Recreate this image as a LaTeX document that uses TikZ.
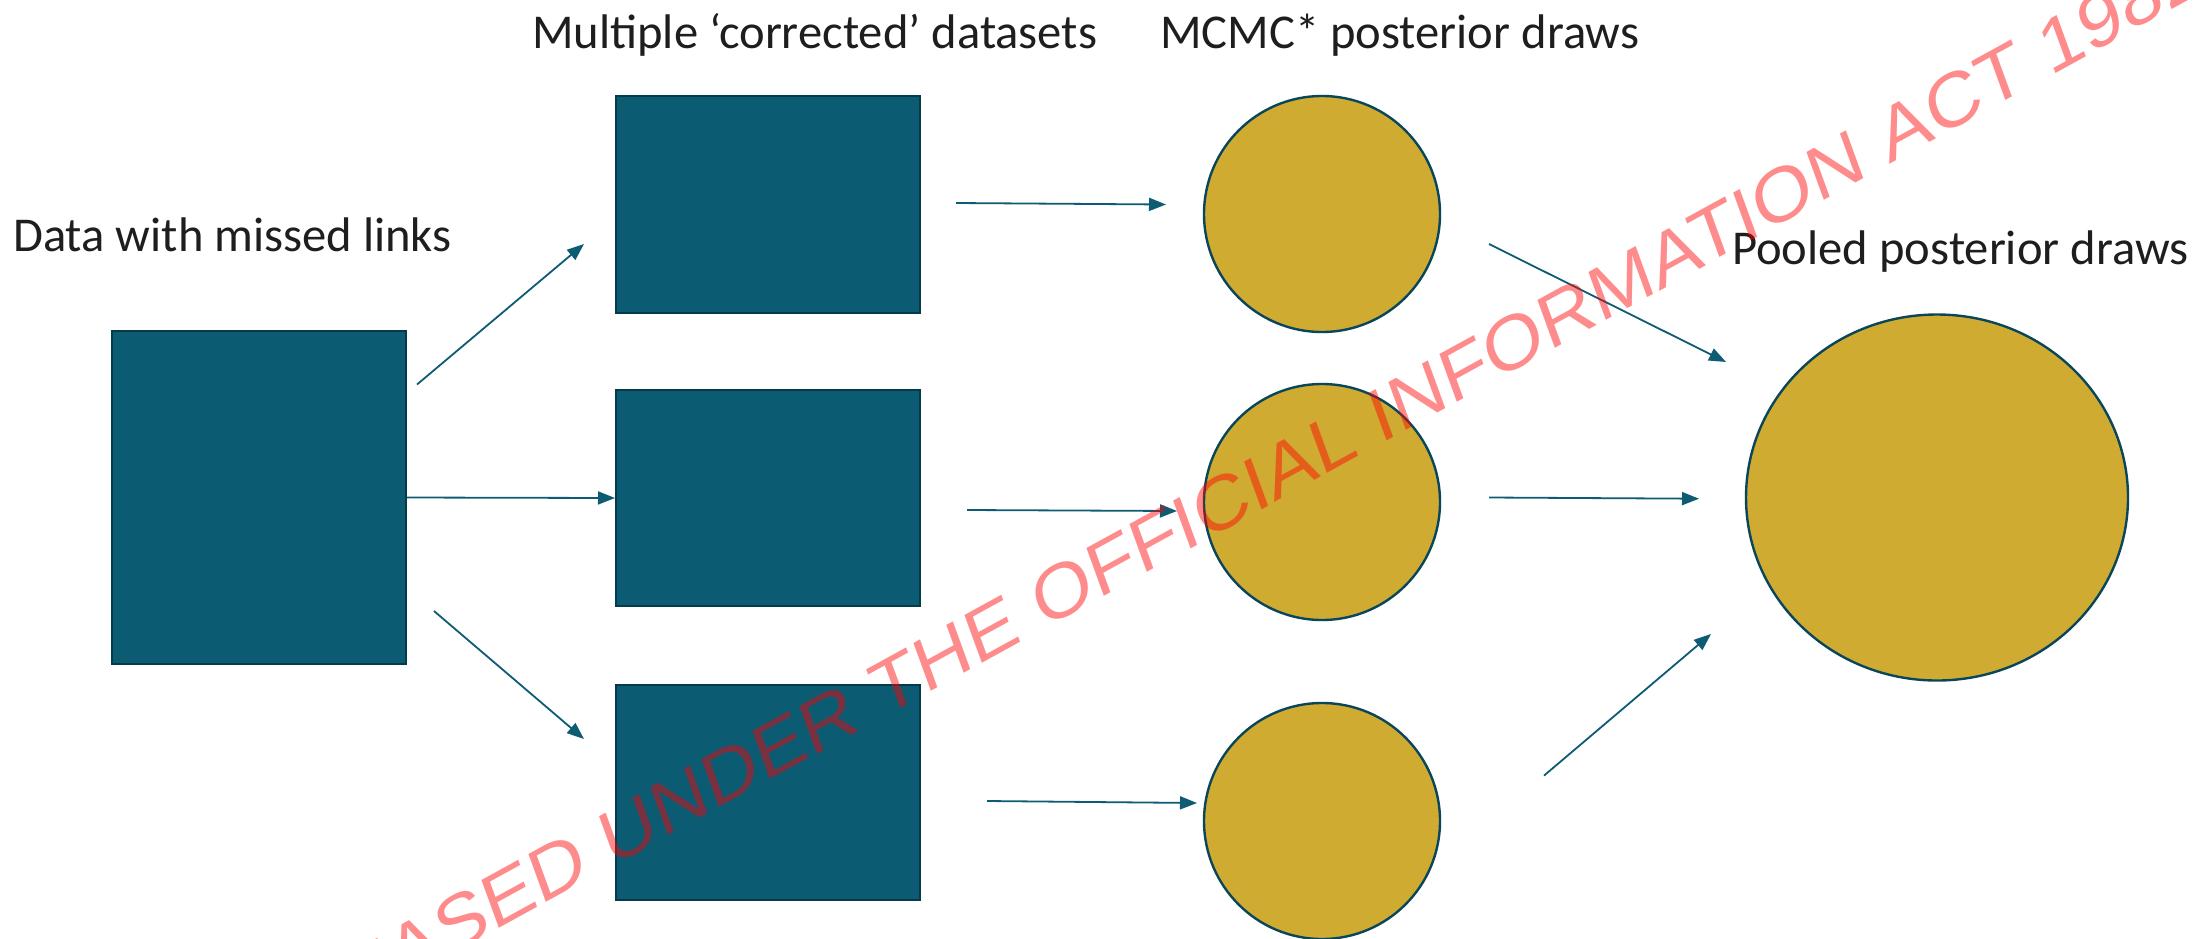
\documentclass[tikz,border=0pt]{standalone}
\usepackage{fontspec}
\setmainfont{Carlito}
\newfontfamily\wmfont{Liberation Sans}
\usetikzlibrary{arrows.meta,shapes.geometric}
\definecolor{boxfill}{RGB}{11,91,115}
\definecolor{boxline}{RGB}{5,58,75}
\definecolor{gold}{RGB}{208,171,50}
\definecolor{goldline}{RGB}{10,70,90}
\definecolor{arrowc}{RGB}{14,92,116}
\definecolor{labelc}{RGB}{30,30,30}
\tikzset{
  databox/.style={draw=boxline, fill=boxfill, line width=2pt, rectangle, inner sep=0pt},
  drawcircle/.style={draw=goldline, fill=gold, line width=2.4pt, circle, inner sep=0pt, minimum size=236pt},
  pooled/.style={draw=goldline, fill=gold, line width=2.4pt, ellipse, inner sep=0pt, minimum width=382pt, minimum height=366pt},
  flow/.style={draw=arrowc, line width=1.8pt, -{Triangle[length=17pt,width=13pt]}},
  lbl/.style={anchor=base west, inner sep=0pt, text=labelc, font=\fontsize{48.6}{58}\selectfont},
  watermark/.style={anchor=base west, inner sep=0pt, text=red, text opacity=0.45, font=\wmfont\fontsize{100}{120}\selectfont}
}
\begin{document}
\begin{tikzpicture}[x=1pt,y=-1pt]
\useasboundingbox (0,0) rectangle (2205,938);
\fill[white] (0,0) rectangle (2205,938);

% labels
\node[lbl] (tdata) at (13,251) {Data with missed links};
\node[lbl] (tcorr) at (532,48) {Multiple ‘corrected’ datasets};
\node[lbl] (tmcmc) at (1160,48) {MCMC* posterior draws};
\node[lbl] (tpool) at (1732,264) {Pooled posterior draws};

% boxes
\node[databox, minimum width=294pt, minimum height=333pt] (L) at (259,497.5) {};
\node[databox, minimum width=304pt, minimum height=217pt] (D1) at (768,204.5) {};
\node[databox, minimum width=304pt, minimum height=216pt] (D2) at (768,498) {};
\node[databox, minimum width=304pt, minimum height=215pt] (D3) at (768,792.5) {};

% circles
\node[drawcircle] (C1) at (1322,214) {};
\node[drawcircle] (C2) at (1322,502) {};
\node[drawcircle] (C3) at (1322,821) {};
\node[pooled] (P) at (1937,497.5) {};

% arrow end points
\coordinate (a1s) at (417,384.5);
\coordinate (a1e) at (584,244);
\coordinate (a3s) at (434,611);
\coordinate (a3e) at (584,739);
\coordinate (a4s) at (956,203);
\coordinate (a4e) at (1166,204.5);
\coordinate (a5s) at (967,510);
\coordinate (a5e) at (1177,511);
\coordinate (a6s) at (987,801);
\coordinate (a6e) at (1197,803);
\coordinate (a7s) at (1489,244);
\coordinate (a7e) at (1726,362);
\coordinate (a8s) at (1489,497.5);
\coordinate (a8e) at (1699,498.7);
\coordinate (a9s) at (1544,775.6);
\coordinate (a9e) at (1711,634);

\draw[flow] (a1s) -- (a1e);
\draw[flow] (L.east) -- (D2.west);
\draw[flow] (a3s) -- (a3e);
\draw[flow] (a4s) -- (a4e);
\draw[flow] (a5s) -- (a5e);
\draw[flow] (a6s) -- (a6e);
\draw[flow] (a7s) -- (a7e);
\draw[flow] (a8s) -- (a8e);
\draw[flow] (a9s) -- (a9e);

% watermark
\begin{scope}
\clip (0,0) rectangle (2205,938);
\begin{scope}[shift={(215,1085)}]
\node[watermark, transform shape, cm={0.7063,0.3883,-0.2531,0.6954,(0,0)}] (wm) at (0,0) {RELEASED UNDER THE OFFICIAL INFORMATION ACT 1982};
\end{scope}
\end{scope}
\end{tikzpicture}
\end{document}
